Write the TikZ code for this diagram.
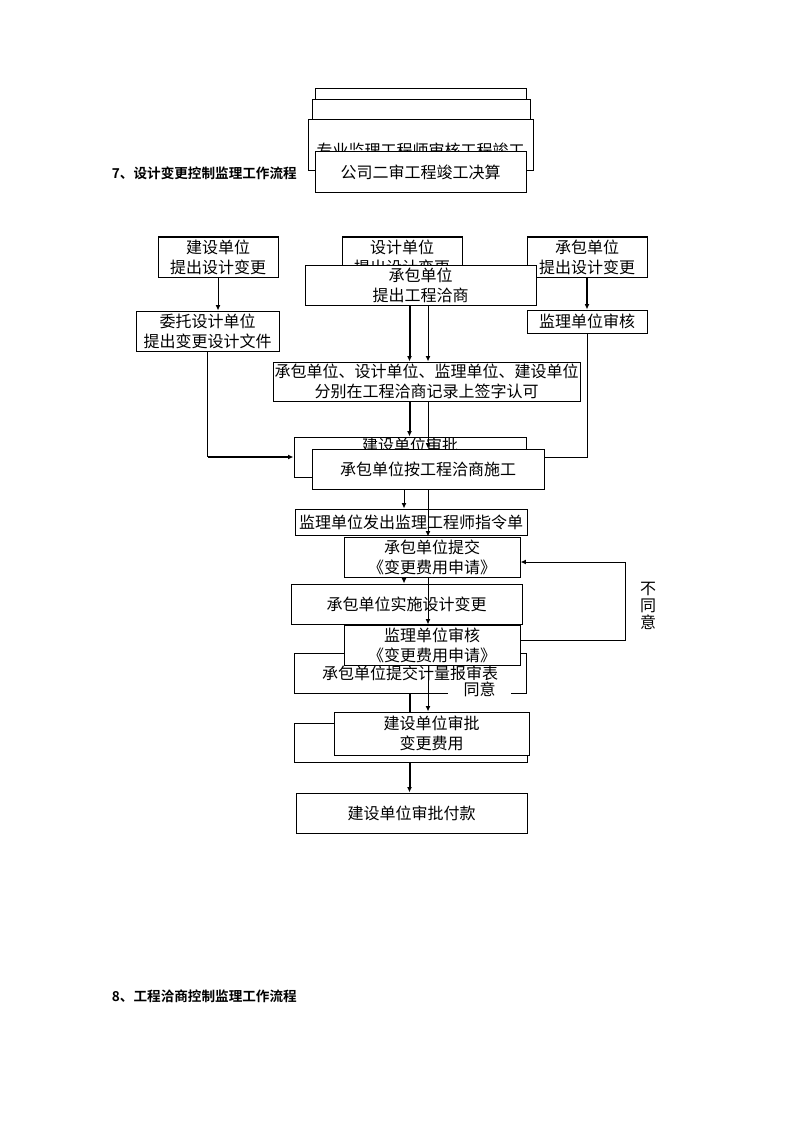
\documentclass[tikz,border=0pt]{standalone}
\usepackage{fontspec}
\setmainfont{Noto Sans CJK SC}[BoldFont={Noto Sans CJK SC Bold}]
\usetikzlibrary{arrows.meta}

\begin{document}
\begin{tikzpicture}[x=0.75pt, y=-0.75pt, >={Latex[length=4pt,width=3.6pt]},
                    line width=0.75pt,
                    main node/.style={draw,fill=white,align=center,inner sep=0.5pt,
                                      font=\fontsize{12}{15}\selectfont},
                    px size/.style 2 args={minimum width=#1*0.75pt,minimum height=#2*0.75pt},
                    bold line/.style={line width=1.5pt},
                    title/.style={anchor=west,font=\bfseries\fontsize{10.2}{12}\selectfont}]

  \useasboundingbox (0,0) rectangle (794,1123);

  % stack left over from the previous flow
  \node[main node,px size={211}{41}] (t1) at (420.5,109.5) {};
  \node[main node,px size={218}{50}] (t2) at (421,125) {};
  \node[main node,px size={225}{51},text height=18pt] (t3) at (420.5,145.5) {专业监理工程师审核工程竣工};
  \node[main node,px size={211}{41}] (t4) at (420.5,172.5) {公司二审工程竣工决算};

  \node[title] (h7) at (107,173) {7、设计变更控制监理工作流程};
  \node[title] (h8) at (107,996) {8、工程洽商控制监理工作流程};

  \node[main node,px size={120}{40}] (1) at (218,257) {建设单位\\提出设计变更};
  \node[main node,px size={120}{40}] (2) at (402,257) {设计单位\\提出设计变更};
  \node[main node,px size={120}{40}] (3) at (587,257) {承包单位\\提出设计变更};
  \node[main node,px size={231}{40}] (4) at (420.5,285) {承包单位\\提出工程洽商};
  \node[main node,px size={143}{40}] (5) at (207.5,331) {委托设计单位\\提出变更设计文件};
  \node[main node,px size={120}{23}] (6) at (587,321.5) {监理单位审核};
  \node[main node,px size={307}{39}] (7) at (426.5,381.5)
       {承包单位、设计单位、监理单位、建设单位\\分别在工程洽商记录上签字认可};
  \node[main node,px size={232}{40},
        label={[anchor=north,inner sep=0pt,yshift=-0.5pt,font=\fontsize{12}{15}\selectfont]north:建设单位审批}]
       (8) at (410,457) {};
  \node[main node,px size={232}{40}] (9) at (428,469) {承包单位按工程洽商施工};
  \node[main node,px size={232}{26}] (10) at (411,522) {监理单位发出监理工程师指令单};
  \node[main node,px size={176}{40}] (11) at (432,557) {承包单位提交\\《变更费用申请》};
  \node[main node,px size={231}{40}] (12) at (406.5,604) {承包单位实施设计变更};
  \node[main node,px size={232}{40}] (14) at (410,673) {承包单位提交计量报审表};
  \node[main node,px size={176}{40}] (13) at (432,645) {监理单位审核\\《变更费用申请》};
  \node[main node,px size={233}{39}] (15) at (410.5,742.5) {};
  \node[main node,px size={195}{43}] (16) at (431.5,733.5) {建设单位审批\\变更费用};
  \node[main node,px size={231}{40}] (17) at (411.5,813) {建设单位审批付款};

  \node[align=center,inner sep=0pt,font=\fontsize{12}{12.75}\selectfont] (no) at (648,606) {不\\同\\意};

  % columns of the vertical connectors
  \coordinate (colA) at (409.5,0);
  \coordinate (colB) at (428,0);
  \coordinate (colC) at (404,0);

  \draw[->] (1.south) -- (1.south |- 5.north);
  \draw (5.south) -- (5.south |- 8.west) coordinate (bend5);
  \draw[bold line,->] (bend5) -- (8.west);
  \draw[bold line,->] (3.south) -- (6.north);
  \draw (6.south) |- ([yshift=-6.75pt]9.north east);

  \draw[bold line,->] (4.south -| colA) -- (7.north -| colA);
  \draw[->] (4.south -| colB) -- (7.north -| colB);
  \draw[bold line,->] (7.south -| colA) -- (8.north -| colA);
  \draw[->] (7.south -| colB) -- (9.north -| colB);
  \draw[->] (9.south -| colC) -- (10.north -| colC);
  \draw[->] (9.south -| colB) -- (11.north -| colB);
  \draw[->] (11.south -| colC) -- (12.north -| colC);
  \draw[->] (11.south -| colB) -- (13.north -| colB);
  \draw[bold line] (14.south -| colA) -- (16.north -| colA);
  \draw[->] (13.south -| colB) -- (16.north -| colB);
  \draw[bold line,->] (15.south -| colA) -- (17.north -| colA);

  % back to the application when refused
  \draw[->] ([yshift=3.75pt]13.east) -- ++(105,0) |- ([yshift=-3.75pt]11.east);

  \node[fill=white,inner sep=1pt,minimum width=63*0.75pt,font=\fontsize{12}{15}\selectfont]
       (yes) at (479.5,689) {同意};

\end{tikzpicture}
\end{document}
